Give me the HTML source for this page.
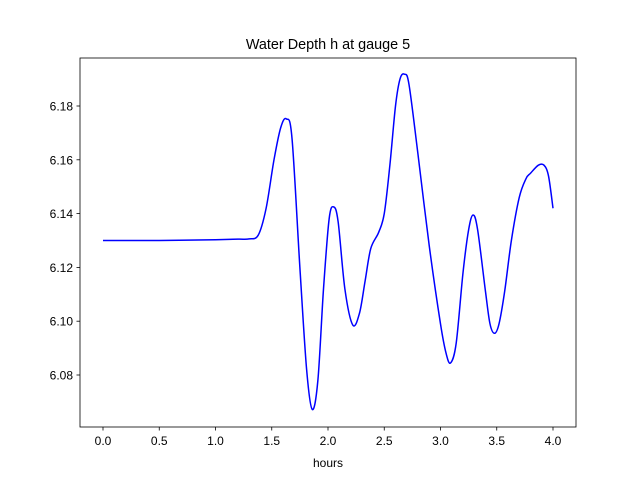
<!DOCTYPE html>
<html><head><meta charset="utf-8"><style>
body{margin:0;background:#fff;}
svg text{font-family:"Liberation Sans","DejaVu Sans",sans-serif;font-size:12px;fill:#000;}
</style></head><body>
<svg width="640" height="480">
<rect x="0" y="0" width="640" height="480" fill="#fff"/>
<text x="328" y="49" text-anchor="middle" style="font-size:14.4px">Water Depth h at gauge 5</text>
<g id="xt"></g>
<g id="yt"></g>
<path id="line" fill="none" stroke="#0000ff" stroke-width="1.5"/>
<rect x="80" y="58" width="496" height="369" fill="none" stroke="#000" stroke-width="0.8"/>
<text x="328" y="467" text-anchor="middle">hours</text>
</svg>
<script>
const xTicks=[0,0.5,1,1.5,2,2.5,3,3.5,4];
const yTicks=[6.08,6.10,6.12,6.14,6.16,6.18];
const times=[0,0.5,1.0,1.2,1.3,1.38,1.45,1.52,1.58,1.63,1.68,1.75,1.81,1.86,1.91,1.96,2.01,2.05,2.09,2.15,2.22,2.28,2.33,2.38,2.45,2.5,2.55,2.6,2.64,2.68,2.72,2.8,2.9,3.0,3.05,3.09,3.14,3.2,3.25,3.29,3.33,3.4,3.44,3.48,3.52,3.57,3.63,3.7,3.76,3.8,3.87,3.92,3.96,4.0];
const depths=[6.130,6.130,6.1303,6.1305,6.1306,6.132,6.142,6.160,6.172,6.1752,6.168,6.120,6.082,6.0672,6.078,6.112,6.138,6.1425,6.137,6.112,6.0986,6.103,6.115,6.127,6.133,6.140,6.158,6.180,6.190,6.1918,6.188,6.162,6.128,6.099,6.088,6.0845,6.092,6.118,6.134,6.1395,6.134,6.111,6.099,6.0955,6.099,6.111,6.130,6.146,6.153,6.155,6.158,6.158,6.154,6.142];
const X=t=>103+t*112.5, Y=v=>106+(6.18-v)*2690;
const ns="http://www.w3.org/2000/svg";
const xt=document.getElementById('xt'), yt=document.getElementById('yt');
xTicks.forEach(t=>{
 const l=document.createElementNS(ns,'line');
 
 
 l.setAttribute('x1',X(t));l.setAttribute('x2',X(t));l.setAttribute('y1',427);l.setAttribute('y2',430.5);l.setAttribute('stroke','#000');l.setAttribute('stroke-width','0.8');
 xt.appendChild(l);
 const s=document.createElementNS(ns,'text');
 
 
 s.setAttribute('x',X(t));s.setAttribute('y',445);s.setAttribute('text-anchor','middle');
 s.textContent=t.toFixed(1);xt.appendChild(s);
});
yTicks.forEach(v=>{
 const l=document.createElementNS(ns,'line');
 
 
 l.setAttribute('x1',76.5);l.setAttribute('x2',80);l.setAttribute('y1',Y(v));l.setAttribute('y2',Y(v));l.setAttribute('stroke','#000');l.setAttribute('stroke-width','0.8');
 yt.appendChild(l);
 const s=document.createElementNS(ns,'text');
 
 
 s.setAttribute('x',73);s.setAttribute('y',Y(v)+4.5);s.setAttribute('text-anchor','end');
 s.textContent=v.toFixed(2);yt.appendChild(s);
});
const P=times.map((t,i)=>[X(t),Y(depths[i])]);
let d='M'+P[0][0]+','+P[0][1];
for(let i=0;i<P.length-1;i++){
 const p0=P[Math.max(0,i-1)],p1=P[i],p2=P[i+1],p3=P[Math.min(P.length-1,i+2)];
 const c1=[p1[0]+(p2[0]-p0[0])/6,p1[1]+(p2[1]-p0[1])/6];
 const c2=[p2[0]-(p3[0]-p1[0])/6,p2[1]-(p3[1]-p1[1])/6];
 d+=' C'+c1+' '+c2+' '+p2;
}
document.getElementById('line').setAttribute('d',d);
</script>
</body></html>
